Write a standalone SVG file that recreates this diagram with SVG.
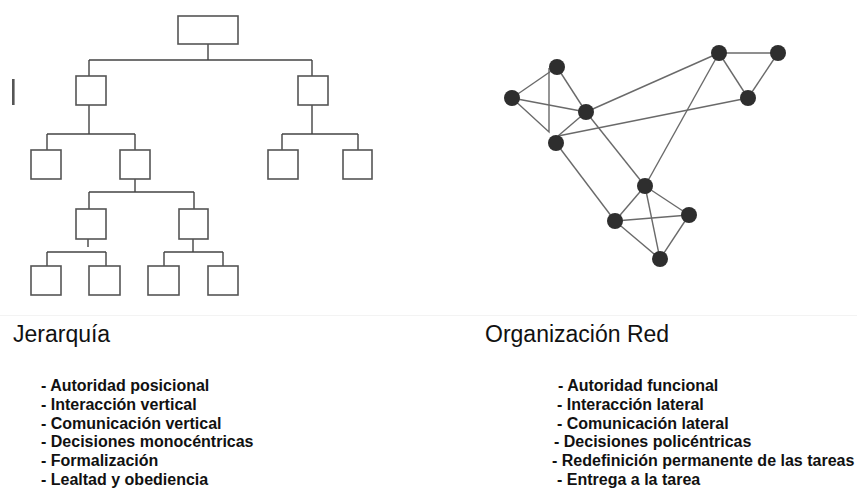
<svg xmlns="http://www.w3.org/2000/svg" width="857" height="488" viewBox="0 0 857 488">
<style>
.box{fill:#fff;stroke:#555;stroke-width:1.6}
.tc{fill:none;stroke:#444;stroke-width:1.4}
.ne{fill:none;stroke:#6a6a6a;stroke-width:1.4}
.nd{fill:#2e2e2e}
.title{font-family:"Liberation Sans",Arial,sans-serif;font-size:23px;fill:#111}
.item{font-family:"Liberation Sans",Arial,sans-serif;font-size:16px;font-weight:bold;fill:#111}
</style>
<rect width="857" height="488" fill="#fff"/>
<line x1="0" y1="315.5" x2="857" y2="315.5" stroke="#f3f3f3" stroke-width="1"/>
<rect x="12" y="79" width="2.6" height="26" fill="#555"/>
<g id="tree-connectors">
<path class="tc" d="M208,44V60M89,60H312M89,60V76M312,60V76"/>
<path class="tc" d="M89,105V134M47,134H135M47,134V150M135,134V150"/>
<path class="tc" d="M312,105V134M282,134H358M282,134V150M358,134V150"/>
<path class="tc" d="M135,179V192M89,192H194M89,192V209M194,192V209"/>
<path class="tc" d="M88,232V247M47,252H106M47,252V266M106,252V266"/>
<path class="tc" d="M193,237V252M164,252H223M164,252V266M223,252V266"/>
</g>
<g id="t-root"><rect class="box" x="178" y="16" width="60" height="28"/></g>
<g id="t-l1a"><rect class="box" x="76" y="76" width="30" height="29"/></g>
<g id="t-l1b"><rect class="box" x="298" y="76" width="30" height="29"/></g>
<g id="t-l2a"><rect class="box" x="31" y="150" width="30" height="29"/></g>
<g id="t-l2b"><rect class="box" x="120" y="150" width="30" height="29"/></g>
<g id="t-l2c"><rect class="box" x="268" y="150" width="30" height="29"/></g>
<g id="t-l2d"><rect class="box" x="343" y="150" width="29" height="29"/></g>
<g id="t-l3a"><rect class="box" x="76" y="209" width="30" height="30"/></g>
<g id="t-l3b"><rect class="box" x="179" y="209" width="29" height="30"/></g>
<g id="t-l4a"><rect class="box" x="31" y="266" width="30" height="29"/></g>
<g id="t-l4b"><rect class="box" x="89" y="266" width="31" height="29"/></g>
<g id="t-l4c"><rect class="box" x="148" y="266" width="31" height="29"/></g>
<g id="t-l4d"><rect class="box" x="208" y="266" width="30" height="29"/></g>
<g id="net-connectors">
<path class="ne" d="M512,98L557,67"/>
<path class="ne" d="M512,98L586,112"/>
<path class="ne" d="M512,98L549,132V68"/>
<path class="ne" d="M557,67L586,112"/>
<path class="ne" d="M586,112L719,53"/>
<path class="ne" d="M586,112L558,136"/>
<path class="ne" d="M558,136L748,98"/>
<path class="ne" d="M586,112L645,186"/>
<path class="ne" d="M719,53L778,53"/>
<path class="ne" d="M719,53L748,98"/>
<path class="ne" d="M778,53L748,98"/>
<path class="ne" d="M719,53L645,186"/>
<path class="ne" d="M556,143L615,221"/>
<path class="ne" d="M645,186L615,221"/>
<path class="ne" d="M645,186L689,215"/>
<path class="ne" d="M645,186L660,259"/>
<path class="ne" d="M615,221L689,215"/>
<path class="ne" d="M615,221L660,259"/>
<path class="ne" d="M689,215L660,259"/>
</g>
<g id="n-a"><circle class="nd" cx="557" cy="67" r="8"/></g>
<g id="n-b"><circle class="nd" cx="512" cy="98" r="8"/></g>
<g id="n-c"><circle class="nd" cx="586" cy="112" r="8"/></g>
<g id="n-d"><circle class="nd" cx="556" cy="143" r="8"/></g>
<g id="n-e"><circle class="nd" cx="719" cy="53" r="8"/></g>
<g id="n-f"><circle class="nd" cx="778" cy="53" r="8"/></g>
<g id="n-g"><circle class="nd" cx="748" cy="98" r="8"/></g>
<g id="n-h"><circle class="nd" cx="645" cy="186" r="8"/></g>
<g id="n-i"><circle class="nd" cx="615" cy="221" r="8"/></g>
<g id="n-j"><circle class="nd" cx="689" cy="215" r="8"/></g>
<g id="n-k"><circle class="nd" cx="660" cy="259" r="8"/></g>
<g id="label-jerarquia"><text class="title" x="13" y="342">Jerarquía</text></g>
<g id="label-red"><text class="title" x="485" y="342">Organización Red</text></g>
<g id="list-jerarquia" class="item">
<text x="41" y="391">- Autoridad posicional</text>
<text x="41" y="410">- Interacción vertical</text>
<text x="41" y="428.5">- Comunicación vertical</text>
<text x="41" y="447">- Decisiones monocéntricas</text>
<text x="41" y="466">- Formalización</text>
<text x="41" y="484.5">- Lealtad y obediencia</text>
</g>
<g id="list-red" class="item">
<text x="558" y="391">- Autoridad funcional</text>
<text x="557" y="410">- Interacción lateral</text>
<text x="557" y="428.5">- Comunicación lateral</text>
<text x="554" y="447">- Decisiones policéntricas</text>
<text x="552" y="466">- Redefinición permanente de las tareas</text>
<text x="557" y="484.5">- Entrega a la tarea</text>
</g>
</svg>
